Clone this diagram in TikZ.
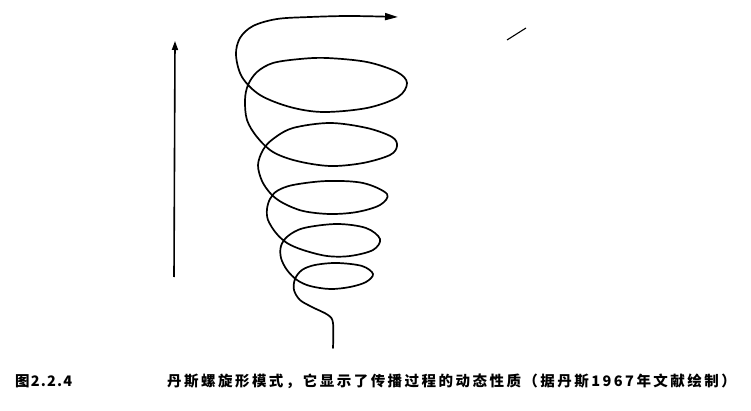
\documentclass[tikz,border=0pt]{standalone}
\usepackage{fontspec}
\newfontfamily\cjk{Noto Sans CJK SC}
\usetikzlibrary{arrows.meta}

\begin{document}
\begin{tikzpicture}[x=1pt, y=-1pt,
    spiral/.style={line width=1.7pt, line cap=round, line join=round,
      -{Triangle[length=13pt, width=7pt]}},
    axisarrow/.style={line width=1.6pt, -{Triangle[length=9pt, width=6pt]}},
    caption/.style={font=\cjk\fontsize{14.5}{16}\selectfont, anchor=west, inner sep=0pt}]
  % fix the page to the size of the reference
  \useasboundingbox (0,0) rectangle (751,411);

  % vertical arrow on the left
  \coordinate (axis bottom) at (174,277);
  \coordinate (axis top) at (175,41);
  \draw[axisarrow] (axis bottom) -- (axis top);

  % spiral, drawn upwards from its tail to the arrow tip
  \draw[spiral] plot[smooth, tension=0.55] coordinates {
    (333,348) (333,323) (328,315) (312,307) (300,300) (294,290)
    (295,279) (302,270) (315,265) (337,263) (362,266) (373,274)
    (366,282) (350,287) (330,289) (310,286) (297,280) (287,270)
    (281,258) (281,246) (288,236) (304,228) (337,224) (366,228)
    (380,239) (373,250) (350,256) (327,256) (303,250) (287,243)
    (276,233) (268,220) (267,209) (270,199) (277,191) (293,185)
    (327,181) (363,183) (387,194) (380,205) (357,212) (330,214)
    (303,211) (283,203) (271,194) (262,181) (258,165) (263,150)
    (273,139) (293,128) (330,123) (367,128) (392,137) (397,146)
    (390,155) (363,163) (330,166) (297,161) (273,152) (257,137)
    (247,120) (245,100) (248,85) (257,72) (273,63) (300,59)
    (327,58) (367,62) (397,72) (407,83) (398,97) (367,108)
    (323,112) (290,107) (260,95) (242,77) (236,55) (240,38)
    (253,26) (277,19) (310,17) (350,16) (398,17)};

  % small stroke at the top right
  \coordinate (mark a) at (507,40);
  \coordinate (mark b) at (526,28);
  \draw[line width=1.1pt] (mark a) -- (mark b);

  % caption
  \node[caption] (fig no) at (15,381) {\bfseries\addfontfeature{LetterSpace=8}图2.2.4};
  \node[caption] (fig text) at (167,381)
    {\bfseries\addfontfeature{LetterSpace=17}丹斯螺旋形模式，它显示了传播过程的动态性质（据丹斯1967年文献绘制）};
\end{tikzpicture}
\end{document}
